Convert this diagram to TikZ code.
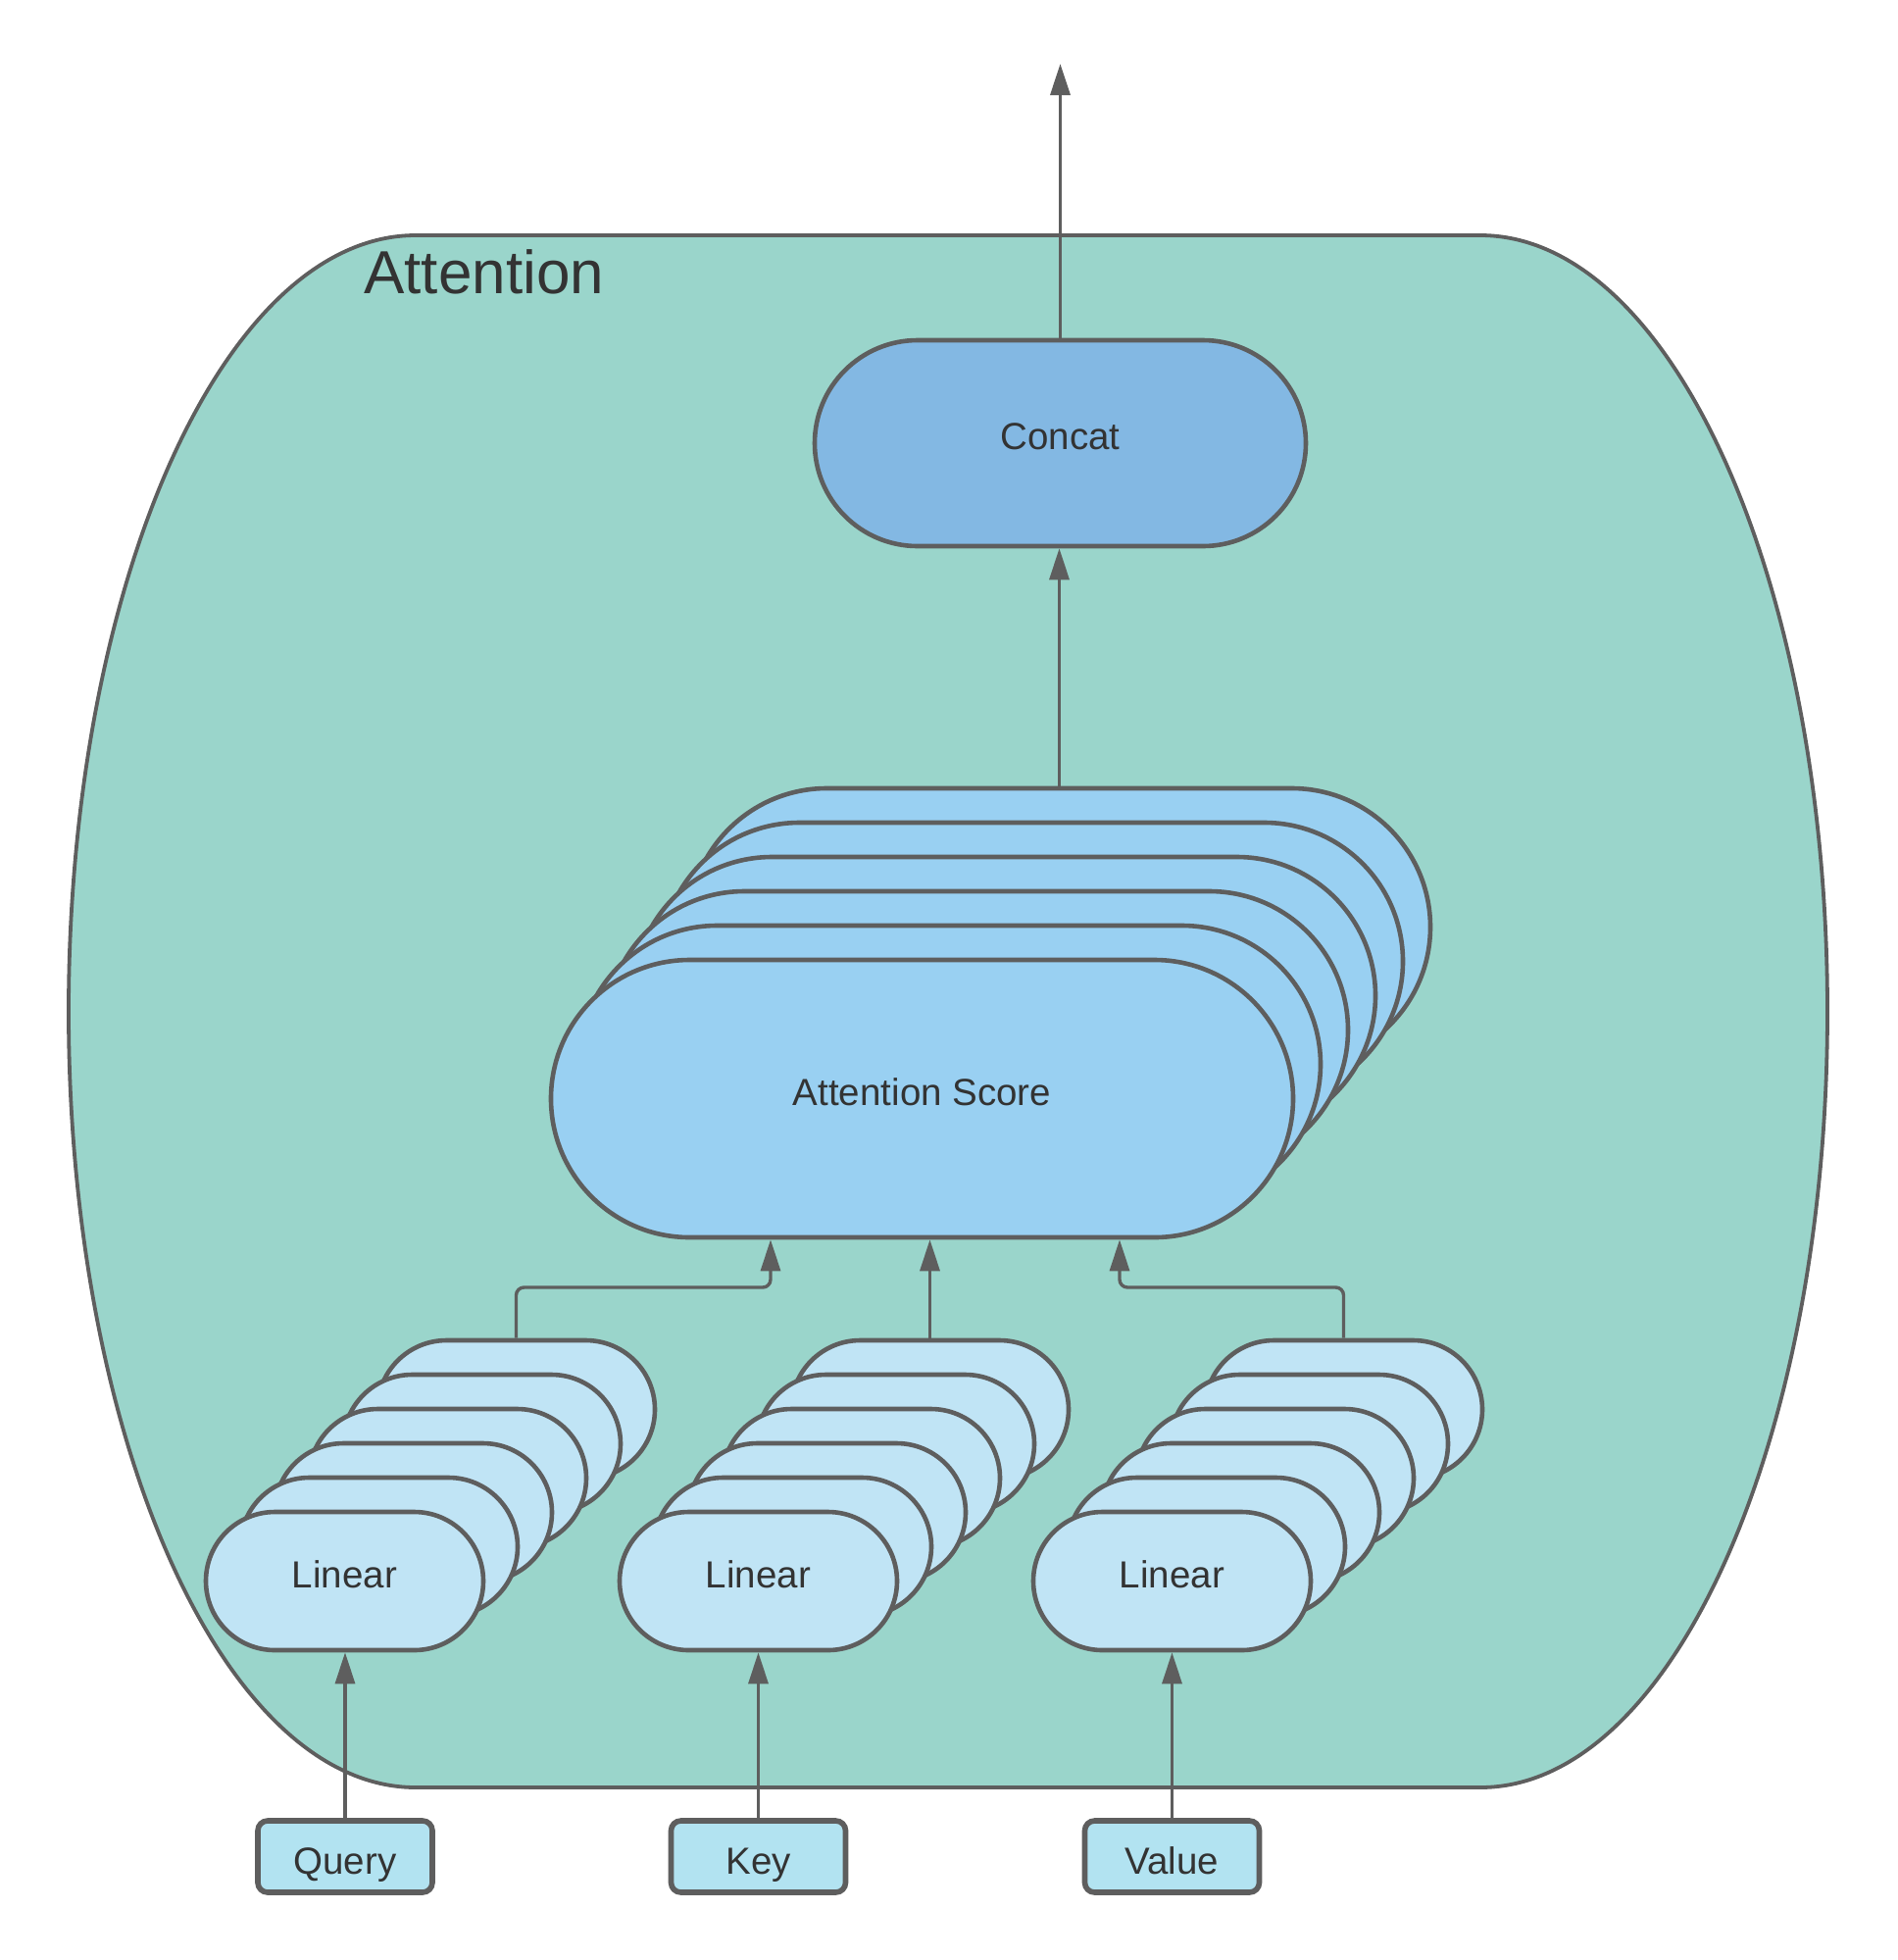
\documentclass[tikz,border=0pt]{standalone}
\usepackage{fontspec}
\setmainfont{Liberation Sans}
\usetikzlibrary{shapes.misc,arrows.meta}
\definecolor{bgteal}{HTML}{9AD5CB}
\definecolor{scorefill}{HTML}{99D0F2}
\definecolor{linfill}{HTML}{C0E4F5}
\definecolor{catfill}{HTML}{83B8E3}
\definecolor{infill}{HTML}{B2E3F1}
\definecolor{edgegray}{HTML}{5E5E5E}
\definecolor{txt}{HTML}{333333}
\begin{document}
\begin{tikzpicture}[x=0.5pt,y=-0.5pt,
  stad/.style={rounded rectangle, draw=edgegray, line width=2.3pt, inner sep=0pt,
    text=txt, font=\fontsize{19.25}{23}\selectfont, text height=13.8pt, text depth=7pt},
  linbox/.style={stad, fill=linfill, minimum width=141.5pt, minimum height=70.5pt},
  scorebox/.style={stad, fill=scorefill, minimum width=378.5pt, minimum height=141.5pt},
  catbox/.style={stad, fill=catfill, minimum width=250.5pt, minimum height=105pt},
  inbox/.style={rectangle, rounded corners=5pt, draw=edgegray, line width=2.8pt, fill=infill,
    minimum width=89pt, minimum height=36.5pt, inner sep=0pt, text=txt,
    font=\fontsize{19.25}{23}\selectfont, text height=17.8pt, text depth=0pt},
  conn/.style={draw=edgegray, line width=1.7pt, rounded corners=4pt},
  arr/.style={conn, -{Triangle[length=16pt,width=10pt]}},
]
\useasboundingbox (0,0) rectangle (1935,1999);

% container
\path[draw=edgegray, fill=bgteal, line width=1.9pt]
  (424,240) -- (1510,240)
  .. controls (1705.5,240) and (1864,594.6) .. (1864,1031.5)
  .. controls (1864,1468.4) and (1705.5,1823) .. (1510,1823)
  -- (424,1823)
  .. controls (228.5,1823) and (70,1468.4) .. (70,1031.5)
  .. controls (70,594.6) and (228.5,240) .. (424,240) -- cycle;

\node[anchor=base west, inner sep=0pt, text=txt, font=\fontsize{31}{37}\selectfont] (title) at (371,299) {Attention};

% concat
\node[catbox] (cc) at (1081.5,452) {Concat};

% attention score stack
\foreach \i in {5,4,3,2,1} {
  \node[scorebox] (as\i) at ({940.5+28*\i},{1120.5-35*\i}) {};
}
\node[scorebox] (as0) at (940.5,1120.5) {Attention Score};

% linear stacks
\foreach \i in {5,4,3,2,1} {
  \node[linbox] (lq\i) at ({351.5+35*\i},{1612.5-35*\i}) {};
  \node[linbox] (lk\i) at ({773.5+35*\i},{1612.5-35*\i}) {};
  \node[linbox] (lv\i) at ({1195.5+35*\i},{1612.5-35*\i}) {};
}
\node[linbox] (lq0) at (351.5,1612.5) {Linear};
\node[linbox] (lk0) at (773.5,1612.5) {Linear};
\node[linbox] (lv0) at (1195.5,1612.5) {Linear};

% inputs
\node[inbox] (q) at (352,1893.5) {Query};
\node[inbox] (k) at (773.5,1893.5) {Key};
\node[inbox] (v) at (1195.5,1893.5) {Value};

% connectors
\coordinate (qx) at (786,1313);
\coordinate (vx) at (1142,1313);
\coordinate (out) at (1081.5,65);

\draw[arr] (q.north) -- (q.north |- lq0.south);
\draw[arr] (k.north) -- (k.north |- lk0.south);
\draw[arr] (v.north) -- (v.north |- lv0.south);

\draw[arr] (lq5.north) |- (qx) -- (as0.south -| qx);
\draw[arr] (lk5.north) -- (as0.south -| lk5.north);
\draw[arr] (lv5.north) |- (vx) -- (as0.south -| vx);

\draw[arr] (as5.north) -- (as5.north |- cc.south);
\draw[arr] (cc.north) -- (out);
\end{tikzpicture}
\end{document}
